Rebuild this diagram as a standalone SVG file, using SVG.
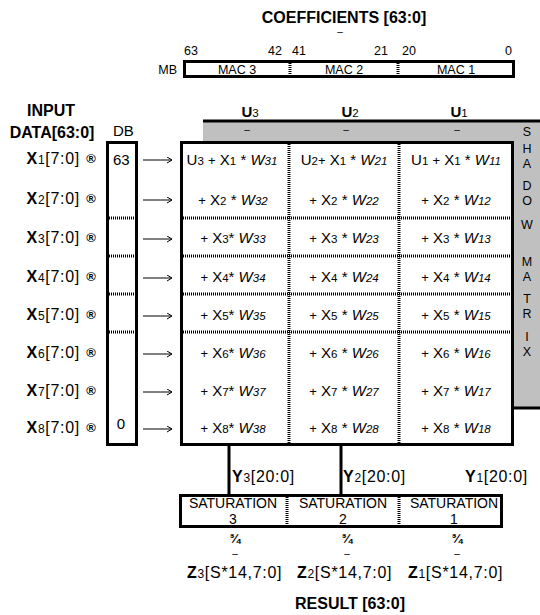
<svg xmlns="http://www.w3.org/2000/svg" width="540" height="615" viewBox="0 0 540 615">
<style>
text{font-family:"Liberation Sans",Arial,sans-serif;fill:#000;font-size:15px}
.b{font-weight:bold}
.ttl{font-weight:bold;font-size:16px}
.s{font-size:11.5px}
.w{font-style:italic}
.ws{font-style:italic;font-size:11.5px}
.p{font-size:13px}
.m{text-anchor:middle}
.e{text-anchor:end}
.lab{font-size:16px;letter-spacing:0.7px}
.ls{font-size:12px}
.sm{font-size:12.5px}
.dash{font-size:10px;text-anchor:middle}
.box{fill:#fff;stroke:#000;stroke-width:3}
.dot{stroke:#000;stroke-width:3;stroke-dasharray:1 1}
.thick{stroke:#000;stroke-width:3;fill:none}
.arr{stroke:#000;stroke-width:1;fill:none;marker-end:url(#ah)}
.sh{text-anchor:middle;font-size:12.5px}
.sat{text-anchor:middle;font-size:14px}
.sym{text-anchor:middle;font-weight:bold;font-size:13px}
</style>
<defs>
<marker id="ah" markerWidth="8" markerHeight="8" refX="6" refY="3.5" orient="auto" markerUnits="userSpaceOnUse">
<path d="M1,0.5 L6,3.5 L1,6.5" fill="none" stroke="#000" stroke-width="1"/>
</marker>
</defs>

<g id="coefficients">
<text x="344" y="23" class="ttl m">COEFFICIENTS [63:0]</text>
<text x="340" y="35" class="dash">–</text>
<text x="184" y="55" class="sm">63</text>
<text x="282" y="55" class="sm e">42</text>
<text x="292" y="55" class="sm">41</text>
<text x="388" y="55" class="sm e">21</text>
<text x="402" y="55" class="sm">20</text>
<text x="512" y="55" class="sm e">0</text>
<text x="177" y="74" class="sm e">MB</text>
<rect x="184.5" y="61.5" width="329" height="15" class="box"/>
<line x1="290" y1="63" x2="290" y2="76" class="dot"/>
<line x1="398" y1="63" x2="398" y2="76" class="dot"/>
<text x="237" y="74" class="sm m">MAC 3</text>
<text x="344" y="74" class="sm m">MAC 2</text>
<text x="456" y="74" class="sm m">MAC 1</text>
</g>

<g id="input-label">
<text x="51" y="116" class="ttl m">INPUT</text>
<text x="52" y="138" class="ttl m">DATA[63:0]</text>
<text x="113" y="136" font-size="14">DB</text>
</g>

<g id="shadow-matrix">
<rect x="203" y="121" width="337" height="287" fill="#c0c0c0"/>
<line x1="203" y1="121" x2="540" y2="121" class="thick"/>
<line x1="513" y1="408" x2="540" y2="408" class="thick"/>
<text x="527" y="136" class="sh">S</text>
<text x="527" y="153" class="sh">H</text>
<text x="527" y="168" class="sh">A</text>
<text x="527" y="190" class="sh">D</text>
<text x="527" y="205" class="sh">O</text>
<text x="527" y="229" class="sh">W</text>
<text x="527" y="266" class="sh">M</text>
<text x="527" y="281" class="sh">A</text>
<text x="527" y="303" class="sh">T</text>
<text x="527" y="318" class="sh">R</text>
<text x="527" y="341" class="sh">I</text>
<text x="527" y="356" class="sh">X</text>
</g>

<g id="u-headers">
<text x="250" y="117" class="m"><tspan class="b">U</tspan><tspan class="s">3</tspan></text>
<text x="350" y="117" class="m"><tspan class="b">U</tspan><tspan class="s">2</tspan></text>
<text x="459" y="117" class="m"><tspan class="b">U</tspan><tspan class="s">1</tspan></text>
<text x="247" y="133" class="dash">–</text>
<text x="346" y="133" class="dash">–</text>
<text x="457" y="133" class="dash">–</text>
</g>

<g id="db-register">
<rect x="107.5" y="142.5" width="29" height="302" class="box"/>
<line x1="109" y1="218" x2="135" y2="218" class="dot"/>
<line x1="109" y1="256" x2="135" y2="256" class="dot"/>
<line x1="109" y1="294" x2="135" y2="294" class="dot"/>
<line x1="109" y1="332" x2="135" y2="332" class="dot"/>
<text x="113" y="165" font-size="14">63</text>
<text x="121" y="429" class="m" font-size="14">0</text>
</g>

<g id="input-rows">
<text x="80" y="164" class="e lab"><tspan class="b">X</tspan><tspan class="ls">1</tspan>[7:0]</text>
<text x="80" y="204" class="e lab"><tspan class="b">X</tspan><tspan class="ls">2</tspan>[7:0]</text>
<text x="80" y="243" class="e lab"><tspan class="b">X</tspan><tspan class="ls">3</tspan>[7:0]</text>
<text x="80" y="282" class="e lab"><tspan class="b">X</tspan><tspan class="ls">4</tspan>[7:0]</text>
<text x="80" y="320" class="e lab"><tspan class="b">X</tspan><tspan class="ls">5</tspan>[7:0]</text>
<text x="80" y="358" class="e lab"><tspan class="b">X</tspan><tspan class="ls">6</tspan>[7:0]</text>
<text x="80" y="396" class="e lab"><tspan class="b">X</tspan><tspan class="ls">7</tspan>[7:0]</text>
<text x="80" y="433" class="e lab"><tspan class="b">X</tspan><tspan class="ls">8</tspan>[7:0]</text>
<text x="91" y="163" class="sym">®</text>
<text x="91" y="203" class="sym">®</text>
<text x="91" y="242" class="sym">®</text>
<text x="91" y="281" class="sym">®</text>
<text x="91" y="319" class="sym">®</text>
<text x="91" y="357" class="sym">®</text>
<text x="91" y="395" class="sym">®</text>
<text x="91" y="432" class="sym">®</text>
</g>

<g id="connectors">
<line x1="143" y1="160" x2="172" y2="160" class="arr"/>
<line x1="143" y1="200" x2="172" y2="200" class="arr"/>
<line x1="143" y1="239" x2="172" y2="239" class="arr"/>
<line x1="143" y1="278" x2="172" y2="278" class="arr"/>
<line x1="143" y1="316" x2="172" y2="316" class="arr"/>
<line x1="143" y1="354" x2="172" y2="354" class="arr"/>
<line x1="143" y1="392" x2="172" y2="392" class="arr"/>
<line x1="143" y1="429" x2="172" y2="429" class="arr"/>
<line x1="229" y1="445" x2="229" y2="496" class="thick"/>
<line x1="341" y1="445" x2="341" y2="496" class="thick"/>
</g>

<g id="mac-matrix">
<rect x="181.5" y="142.5" width="331" height="302" class="box"/>
<line x1="289" y1="144" x2="289" y2="443" class="dot"/>
<line x1="399" y1="144" x2="399" y2="443" class="dot"/>
<line x1="183" y1="218" x2="511" y2="218" class="dot"/>
<line x1="183" y1="256" x2="511" y2="256" class="dot"/>
<line x1="183" y1="294" x2="511" y2="294" class="dot"/>
<line x1="183" y1="332" x2="511" y2="332" class="dot"/>

<text x="232" y="165" class="m">U<tspan class="s">3</tspan> <tspan class="p">+</tspan> X<tspan class="s">1</tspan> * <tspan class="w">W</tspan><tspan class="ws">31</tspan></text>
<text x="344" y="165" class="m">U<tspan class="s">2</tspan><tspan class="p">+</tspan> X<tspan class="s">1</tspan> * <tspan class="w">W</tspan><tspan class="ws">21</tspan></text>
<text x="456" y="165" class="m">U<tspan class="s">1</tspan> <tspan class="p">+</tspan> X<tspan class="s">1</tspan> * <tspan class="w">W</tspan><tspan class="ws">11</tspan></text>

<text x="233" y="205" class="m"><tspan class="p">+</tspan> X<tspan class="s">2</tspan> * <tspan class="w">W</tspan><tspan class="ws">32</tspan></text>
<text x="344" y="205" class="m"><tspan class="p">+</tspan> X<tspan class="s">2</tspan> * <tspan class="w">W</tspan><tspan class="ws">22</tspan></text>
<text x="456" y="205" class="m"><tspan class="p">+</tspan> X<tspan class="s">2</tspan> * <tspan class="w">W</tspan><tspan class="ws">12</tspan></text>

<text x="233" y="243" class="m"><tspan class="p">+</tspan> X<tspan class="s">3</tspan>* <tspan class="w">W</tspan><tspan class="ws">33</tspan></text>
<text x="344" y="243" class="m"><tspan class="p">+</tspan> X<tspan class="s">3</tspan> * <tspan class="w">W</tspan><tspan class="ws">23</tspan></text>
<text x="456" y="243" class="m"><tspan class="p">+</tspan> X<tspan class="s">3</tspan> * <tspan class="w">W</tspan><tspan class="ws">13</tspan></text>

<text x="233" y="282" class="m"><tspan class="p">+</tspan> X<tspan class="s">4</tspan>* <tspan class="w">W</tspan><tspan class="ws">34</tspan></text>
<text x="344" y="282" class="m"><tspan class="p">+</tspan> X<tspan class="s">4</tspan> * <tspan class="w">W</tspan><tspan class="ws">24</tspan></text>
<text x="456" y="282" class="m"><tspan class="p">+</tspan> X<tspan class="s">4</tspan> * <tspan class="w">W</tspan><tspan class="ws">14</tspan></text>

<text x="233" y="320" class="m"><tspan class="p">+</tspan> X<tspan class="s">5</tspan>* <tspan class="w">W</tspan><tspan class="ws">35</tspan></text>
<text x="344" y="320" class="m"><tspan class="p">+</tspan> X<tspan class="s">5</tspan> * <tspan class="w">W</tspan><tspan class="ws">25</tspan></text>
<text x="456" y="320" class="m"><tspan class="p">+</tspan> X<tspan class="s">5</tspan> * <tspan class="w">W</tspan><tspan class="ws">15</tspan></text>

<text x="233" y="358" class="m"><tspan class="p">+</tspan> X<tspan class="s">6</tspan>* <tspan class="w">W</tspan><tspan class="ws">36</tspan></text>
<text x="344" y="358" class="m"><tspan class="p">+</tspan> X<tspan class="s">6</tspan> * <tspan class="w">W</tspan><tspan class="ws">26</tspan></text>
<text x="456" y="358" class="m"><tspan class="p">+</tspan> X<tspan class="s">6</tspan> * <tspan class="w">W</tspan><tspan class="ws">16</tspan></text>

<text x="233" y="396" class="m"><tspan class="p">+</tspan> X<tspan class="s">7</tspan>* <tspan class="w">W</tspan><tspan class="ws">37</tspan></text>
<text x="344" y="396" class="m"><tspan class="p">+</tspan> X<tspan class="s">7</tspan> * <tspan class="w">W</tspan><tspan class="ws">27</tspan></text>
<text x="456" y="396" class="m"><tspan class="p">+</tspan> X<tspan class="s">7</tspan> * <tspan class="w">W</tspan><tspan class="ws">17</tspan></text>

<text x="233" y="433" class="m"><tspan class="p">+</tspan> X<tspan class="s">8</tspan>* <tspan class="w">W</tspan><tspan class="ws">38</tspan></text>
<text x="344" y="433" class="m"><tspan class="p">+</tspan> X<tspan class="s">8</tspan> * <tspan class="w">W</tspan><tspan class="ws">28</tspan></text>
<text x="456" y="433" class="m"><tspan class="p">+</tspan> X<tspan class="s">8</tspan> * <tspan class="w">W</tspan><tspan class="ws">18</tspan></text>
</g>

<g id="y-labels">
<text x="232" y="482" class="lab"><tspan class="b">Y</tspan><tspan class="ls">3</tspan>[20:0]</text>
<text x="343" y="482" class="lab"><tspan class="b">Y</tspan><tspan class="ls">2</tspan>[20:0]</text>
<text x="465" y="482" class="lab"><tspan class="b">Y</tspan><tspan class="ls">1</tspan>[20:0]</text>
</g>

<g id="saturation">
<rect x="180.5" y="495.5" width="321" height="31" class="box"/>
<line x1="287" y1="497" x2="287" y2="525" class="dot"/>
<line x1="399" y1="497" x2="399" y2="525" class="dot"/>
<text x="233" y="508" class="sat">SATURATION</text>
<text x="233" y="524" class="sat">3</text>
<text x="343" y="508" class="sat">SATURATION</text>
<text x="343" y="524" class="sat">2</text>
<text x="454" y="508" class="sat">SATURATION</text>
<text x="454" y="524" class="sat">1</text>
<text x="235" y="543" class="sym" font-size="12">¾</text>
<text x="347" y="543" class="sym" font-size="12">¾</text>
<text x="457" y="543" class="sym" font-size="12">¾</text>
<text x="235" y="557" class="dash">–</text>
<text x="347" y="557" class="dash">–</text>
<text x="457" y="557" class="dash">–</text>
</g>

<g id="result">
<text x="187" y="578" class="lab"><tspan class="b">Z</tspan><tspan class="ls">3</tspan>[S*14,7:0]</text>
<text x="297" y="578" class="lab"><tspan class="b">Z</tspan><tspan class="ls">2</tspan>[S*14,7:0]</text>
<text x="408" y="578" class="lab"><tspan class="b">Z</tspan><tspan class="ls">1</tspan>[S*14,7:0]</text>
<text x="350" y="609" class="ttl m">RESULT [63:0]</text>
</g>
</svg>
